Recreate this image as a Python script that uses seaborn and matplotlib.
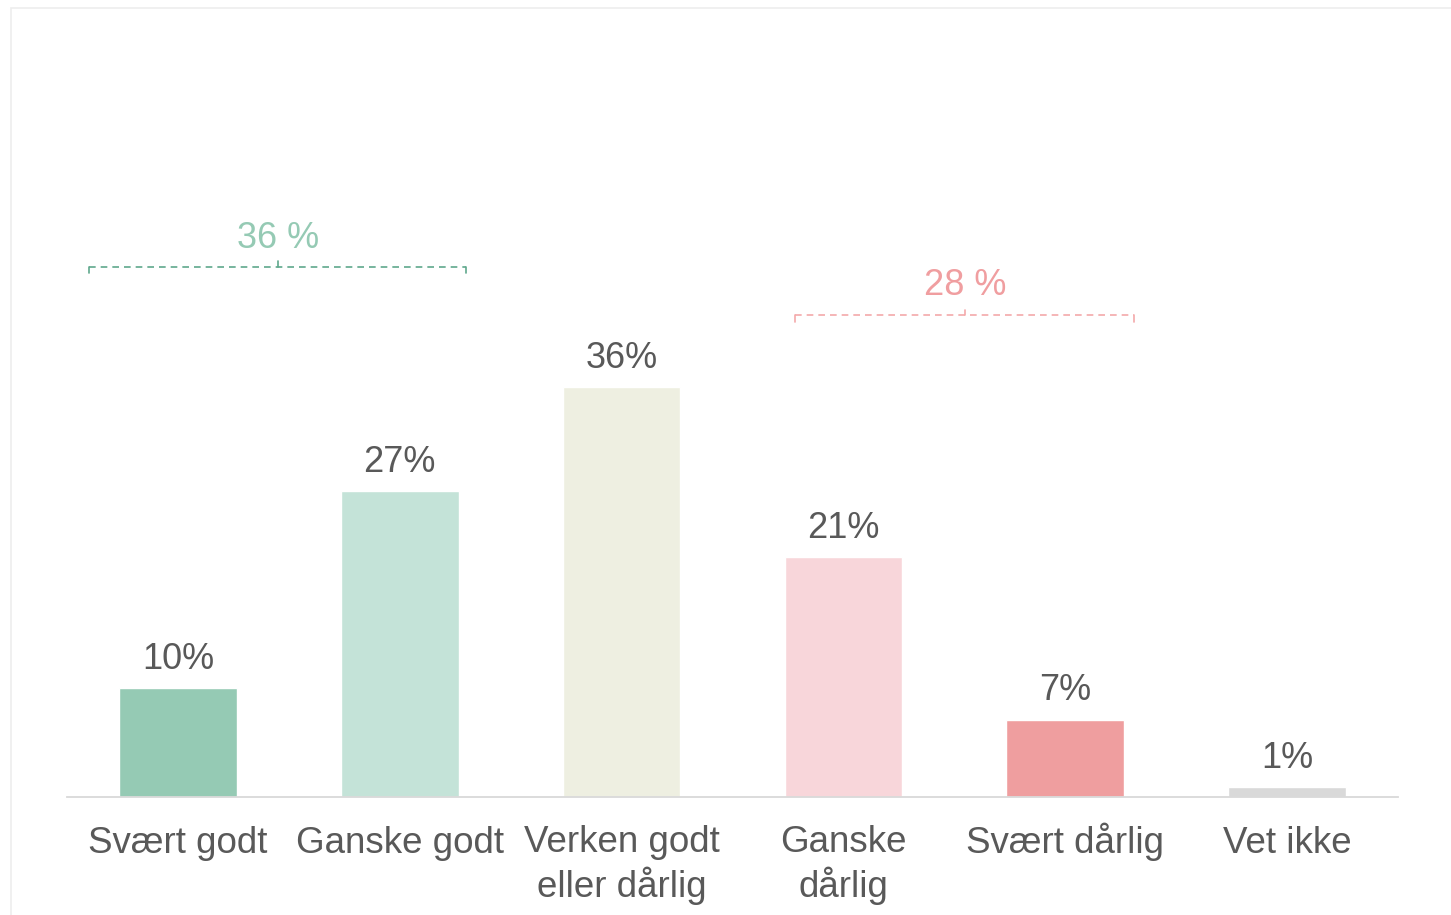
import matplotlib
matplotlib.use('Agg')
import matplotlib.pyplot as plt
import seaborn as sns
import pandas as pd
from matplotlib.patches import Rectangle

# ── Data ───────────────────────────────────────────────────────────────────
categories = ['Svært godt', 'Ganske godt', 'Verken godt\neller dårlig',
              'Ganske\ndårlig', 'Svært dårlig', 'Vet ikke']
values = [9.6, 26.9, 36.0, 21.1, 6.8, 0.9]
bar_colors = ['#95CAB4', '#C4E3D8', '#EEEFE1', '#F8D6DA', '#EF9E9F', '#D9D9D9']

# grouped totals shown above brackets
group_labels = ['36 %', '28 %']
group_spans = [(-0.40, 1.30), (2.78, 4.31)]
group_mid = [0.45, 3.55]
group_line_y = [46.6, 42.3]
group_text_y = [47.5, 43.4]
group_text_colors = ['#95CAB4', '#F09EA0']
group_line_colors = ['#5FA88C', '#F4A9AA']

TEXT = '#595959'
LABEL_SIZE = 26.5
FIRST_PAD = 40  # points from axis to first baseline

sns.set_theme(style='white')
plt.rcParams['font.family'] = ['Liberation Sans', 'DejaVu Sans']

df = pd.DataFrame({'cat': categories, 'val': values})

fig = plt.figure(figsize=(14.51, 9.15), dpi=100)
ax = fig.add_axes([67 / 1451, 1 - 797 / 915, (1398 - 67) / 1451, 683 / 915])

sns.barplot(data=df, x='cat', y='val', hue='cat', palette=bar_colors,
            legend=False, width=0.53, saturation=1, ax=ax)

for c in ax.containers:
    ax.bar_label(c, labels=[f'{v:.0f}%' for v in c.datavalues],
                 padding=8, fontsize=26, color=TEXT)

ax.set_xlim(-0.5, 5.5)
ax.set_ylim(0, 60)
ax.set_xlabel('')
ax.set_ylabel('')
ax.set_yticks([])
ax.tick_params(axis='x', length=0, labelsize=LABEL_SIZE, labelcolor=TEXT)
# baseline-align labels; multi-line labels get extra pad so first lines line up
for tick, cat in zip(ax.xaxis.get_major_ticks(), categories):
    n_extra = cat.count('\n')
    tick.set_pad(FIRST_PAD + n_extra * 1.2 * LABEL_SIZE)
    tick.label1.set_verticalalignment('baseline')
    tick.label1.set_linespacing(1.2)
for s in ['top', 'left', 'right']:
    ax.spines[s].set_visible(False)
ax.spines['bottom'].set_color('#D9D9D9')
ax.spines['bottom'].set_linewidth(1.3)

# ── Brackets ────────────────────────────────────────────────────────────────
for lab, (x0, x1), xm, y, ty, tc, lc in zip(group_labels, group_spans, group_mid,
                                             group_line_y, group_text_y,
                                             group_text_colors, group_line_colors):
    kw = dict(color=lc, lw=1.2, ls=(0, (4, 3)))
    ax.plot([x0, x1], [y, y], **kw)
    ax.plot([x0, x0], [y, y - 0.6], color=lc, lw=1.2)
    ax.plot([x1, x1], [y, y - 0.6], color=lc, lw=1.2)
    ax.plot([xm, xm], [y, y + 0.5], color=lc, lw=1.2)
    ax.text(xm, ty, lab, ha='center', va='bottom', fontsize=26, color=tc)

# light frame around the chart area
fig.patches.append(Rectangle((11 / 1451, -0.05), 1.1, 1 - 8 / 915 + 0.05,
                             transform=fig.transFigure, fill=False,
                             edgecolor='#EDEDED', lw=1.2))

fig.savefig('out.png', dpi=100)
